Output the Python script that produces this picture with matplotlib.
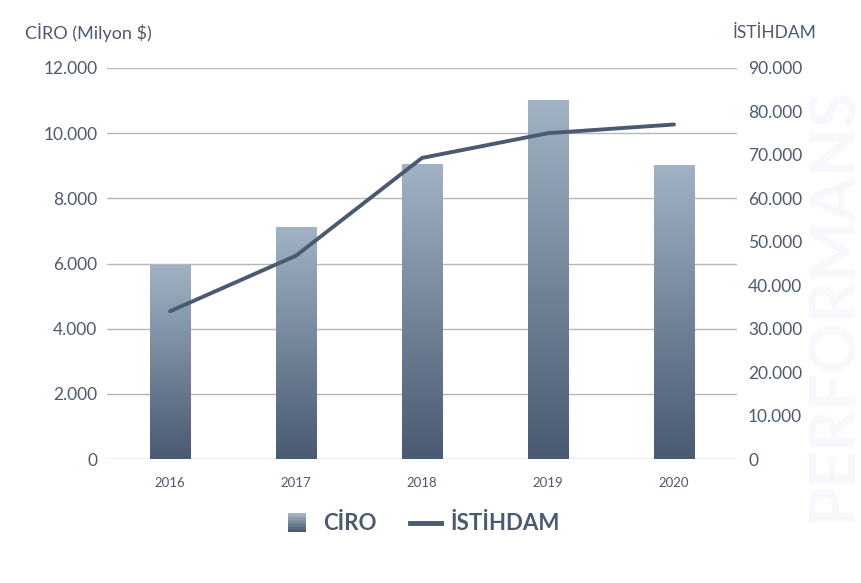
import matplotlib.pyplot as plt
import numpy as np
from matplotlib.colors import LinearSegmentedColormap
from matplotlib.legend_handler import HandlerBase
from matplotlib.patches import Rectangle
from matplotlib.lines import Line2D

# Data
years = ["2016", "2017", "2018", "2019", "2020"]
ciro = [5950, 7100, 9050, 11000, 9000]          # Milyon $
istihdam = [34000, 46800, 69300, 75000, 77000]

text_color = "#4d5a6c"
line_color = "#4a5a70"
grid_color = "#b4b6bc"
bar_top = "#a0b2c3"
bar_bottom = "#4a5a72"
cmap = LinearSegmentedColormap.from_list("bar", [bar_bottom, bar_top])

plt.rcParams['font.family'] = ['Lato', 'DejaVu Sans']

fig = plt.figure(figsize=(8.62, 5.83), dpi=100)

# faint watermark on the right edge
fig.text(833 / 862, 0.48, "PERFORMANS", rotation=90, fontsize=46, fontweight='bold',
         color="#f7f8fb", ha='center', va='center', zorder=0)

ax = fig.add_axes([107 / 862, 1 - 459 / 583, 630 / 862, 391 / 583])
ax.set_facecolor('none')
ax2 = ax.twinx()

x = np.arange(len(years))
bar_w = 0.32

# gradient bars
grad = np.linspace(0, 1, 256).reshape(-1, 1)
bars = ax.bar(x, ciro, width=bar_w, color='none', zorder=2)
for b in bars:
    bx, by = b.get_x(), b.get_y()
    bw, bh = b.get_width(), b.get_height()
    ax.imshow(grad, cmap=cmap, origin='lower', aspect='auto',
              extent=[bx, bx + bw, by, by + bh], zorder=2)
ax.set_xlim(-0.5, len(years) - 0.5)
ax.set_ylim(0, 12000)
ax.set_yticks(np.arange(0, 12001, 2000))
ax.set_yticklabels([f"{v:,}".replace(",", ".") for v in range(0, 12001, 2000)])
ax.grid(axis='y', color=grid_color, linewidth=1, zorder=0)
ax.set_axisbelow(True)
ax.set_xticks(x)
ax.set_xticklabels(years)

ax2.plot(x, istihdam, color=line_color, linewidth=2.8, solid_capstyle='round', zorder=3)
ax2.set_ylim(0, 90000)
ax2.set_yticks(np.arange(0, 90001, 10000))
ax2.set_yticklabels([f"{v:,}".replace(",", ".") for v in range(0, 90001, 10000)])

for a in (ax, ax2):
    for s in a.spines.values():
        s.set_visible(False)
    a.tick_params(length=0, colors=text_color)
ax.tick_params(axis='y', labelsize=12.5, pad=7)
ax.tick_params(axis='x', labelsize=9.5, pad=13)
ax2.tick_params(axis='y', labelsize=12.5, pad=8)

fig.text(25 / 862, 1 - 33 / 583, "CİRO (Milyon $)", fontsize=13, color=text_color, va='center')
fig.text(733 / 862, 1 - 33 / 583, "İSTİHDAM", fontsize=12.5, color=text_color, va='center')


class GradientHandler(HandlerBase):
    def create_artists(self, legend, orig_handle, xdescent, ydescent,
                       width, height, fontsize, trans):
        n = 12
        side = height * 1.15
        x0 = xdescent + (width - side) / 2
        y0 = -ydescent + (height - side) / 2
        arts = []
        for i in range(n):
            arts.append(Rectangle((x0, y0 + side * i / n), side, side / n + 0.3,
                                  facecolor=cmap(i / (n - 1)), edgecolor='none',
                                  transform=trans))
        return arts


bar_handle = Rectangle((0, 0), 1, 1)
line_handle = Line2D([0], [0], color=line_color, linewidth=3.5)
leg = fig.legend([bar_handle, line_handle], ["CİRO", "İSTİHDAM"],
                 handler_map={Rectangle: GradientHandler()},
                 loc='center', bbox_to_anchor=(421 / 862, 1 - 524 / 583),
                 ncol=2, frameon=False, handlelength=1.4, handletextpad=0.45,
                 columnspacing=1.5, prop={'size': 16, 'weight': 'bold'})
for t in leg.get_texts():
    t.set_color(line_color)

fig.savefig("out.png", dpi=100)
